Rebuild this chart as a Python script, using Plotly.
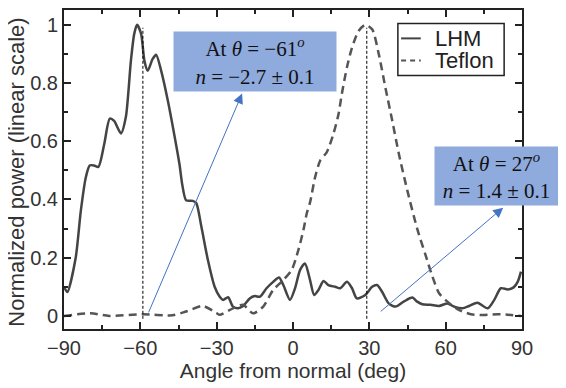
import plotly.graph_objects as go

# ---------------- data ----------------
lhm_angle = [-90, -88.7, -85.4, -83.4, -81.4, -79.9, -78.2, -76.5, -74.2, -72.0, -70.3, -67.6,
             -65.7, -63.7, -62.4, -61.3, -59.7, -58.4, -57.1, -55.2, -53.8, -51.8, -49.2, -46.6,
             -44.6, -43.5, -42.0, -39.4, -38.0, -36.0, -33.4, -30.8, -28.8, -27.5, -25.5, -23.6,
             -21.6, -19.6, -17.0, -15.0, -13.0, -10.4, -7.8, -5.5, -3.8, -1.2, 0.8, 2.8, 4.7,
             6.7, 8.3, 10.0, 12.0, 13.9, 16.6, 18.6, 21.2, 23.2, 25.1, 28.4, 31.1, 33.0, 35.0,
             37.6, 40.3, 43.5, 46.9, 48.8, 50.8, 54.1, 57.4, 60.7, 63.3, 66.6, 69.2, 72.5, 76.5,
             79.1, 81.7, 84.4, 86.7, 88.3, 89.6]
lhm_power = [0.10, 0.082, 0.20, 0.36, 0.477, 0.517, 0.517, 0.512, 0.59, 0.678, 0.67, 0.627,
             0.683, 0.877, 0.969, 1.0, 0.969, 0.877, 0.842, 0.882, 0.897, 0.842, 0.74, 0.62,
             0.52, 0.45, 0.397, 0.395, 0.387, 0.306, 0.19, 0.10, 0.066, 0.055, 0.064, 0.032,
             0.026, 0.034, 0.06, 0.068, 0.066, 0.095, 0.117, 0.132, 0.106, 0.055, 0.095, 0.158, 0.18,
             0.123, 0.072, 0.089, 0.12, 0.106, 0.10, 0.095, 0.117, 0.095, 0.06, 0.072, 0.10, 0.106, 0.083,
             0.043, 0.032, 0.049, 0.063, 0.049, 0.04, 0.038, 0.034, 0.043, 0.032, 0.026, 0.034, 0.045, 0.026,
             0.055, 0.095, 0.091, 0.098, 0.117, 0.152]

teflon_angle = [-90, -79.5, -72.2, -59.1, -47.3, -42.0, -35.4, -30.1, -28.8, -23.6, -19.6, -15.7,
                -11.7, -7.8, -3.8, -0.5, 2.1, 4.1, 5.4, 6.7, 8.7, 10.7, 13.3, 15.9, 17.9, 19.2,
                21.2, 23.2, 25.8, 28.4, 31.1, 33.7, 36.3, 39.0, 41.6, 44.9, 48.8, 52.1, 54.8,
                57.4, 60.7, 64.6, 69.9, 75.1, 80.4, 85.7, 89.6]
teflon_power = [0.0, 0.009, 0.0, 0.006, 0.002, 0.015, 0.034, 0.01, 0.004, 0.026, 0.038, 0.009,
                0.032, 0.089, 0.123, 0.158, 0.226, 0.295, 0.352, 0.39, 0.477, 0.534, 0.563, 0.626, 0.694, 0.763,
                0.854, 0.922, 0.979, 1.0, 0.985, 0.90, 0.785, 0.671, 0.557, 0.432, 0.30, 0.209, 0.135,
                0.078, 0.049, 0.023, 0.006, 0.003, 0.006, 0.003, 0.0]

x_ticks = [-90, -60, -30, 0, 30, 60, 90]
x_ticklabels = ["\u221290", "\u221260", "\u221230", "0", "30", "60", "90"]
y_ticks = [0, 0.2, 0.4, 0.6, 0.8, 1]
y_ticklabels = ["0", "0.2", "0.4", "0.6", "0.8", "1"]

series_names = ["LHM", "Teflon"]
peak_angles = [-59, 29]
box_texts = ["At <i>\u03b8</i> = \u221261<sup><i>o</i></sup><br><i>n</i> = \u22122.7 \u00b1 0.1",
             "At <i>\u03b8</i> = 27<sup><i>o</i></sup><br><i>n</i> = 1.4 \u00b1 0.1"]
x_title = "Angle from normal (deg)"
y_title = "Normalized power (linear scale)"

# ---------------- figure ----------------
AX = "#222222"
line_styles = [dict(color="#444444", width=2.5, shape="spline", smoothing=0.7),
               dict(color="#555555", width=2.5, dash="8px,5px", shape="spline", smoothing=0.7)]
legend_dashes = ["solid", "5px,4px"]

fig = go.Figure()
fig.add_trace(go.Scatter(x=lhm_angle, y=lhm_power, name=series_names[0], mode="lines",
                         line=line_styles[0], showlegend=False))
fig.add_trace(go.Scatter(x=teflon_angle, y=teflon_power, name=series_names[1], mode="lines",
                         line=line_styles[1], showlegend=False))

for a in peak_angles:
    fig.add_shape(type="line", xref="x", yref="y", x0=a, x1=a, y0=-0.01, y1=0.99,
                  line=dict(color="black", width=1, dash="3px,2px"))

# arrows
arrow_color = "#4472C4"
fig.add_annotation(x=-20.0, y=0.764, ax=-57.0, ay=0.007, xref="x", yref="y", axref="x", ayref="y",
                   showarrow=True, arrowhead=2, arrowsize=2, arrowwidth=1, arrowcolor=arrow_color, text="")
fig.add_annotation(x=82.6, y=0.372, ax=33.9, ay=0.011, xref="x", yref="y", axref="x", ayref="y",
                   showarrow=True, arrowhead=2, arrowsize=2, arrowwidth=1, arrowcolor=arrow_color, text="")

box_font = dict(family="Liberation Serif, DejaVu Serif, serif", size=21, color="#111111")
fig.add_annotation(x=0.417, y=0.839, xref="paper", yref="paper", text=box_texts[0], showarrow=False,
                   bgcolor="#8FAADC", width=162, height=59, borderpad=0, font=box_font,
                   xanchor="center", yanchor="middle", align="center")
fig.add_annotation(x=0.944, y=0.479, xref="paper", yref="paper", text=box_texts[1], showarrow=False,
                   bgcolor="#8FAADC", width=123, height=58, borderpad=0, font=box_font,
                   xanchor="center", yanchor="middle", align="center")

# legend box (drawn in paper coordinates)
fig.add_shape(type="rect", xref="paper", yref="paper", x0=0.729, x1=0.961, y0=0.795, y1=0.958,
              line=dict(color="#222222", width=1.5), fillcolor="white", layer="above")
legend_rows_y = [0.911, 0.842]
for name, st, dsh, yy in zip(series_names, line_styles, legend_dashes, legend_rows_y):
    fig.add_shape(type="line", xref="paper", yref="paper", x0=0.736, x1=0.779, y0=yy, y1=yy,
                  line=dict(color=st["color"], width=2, dash=dsh), layer="above")
    fig.add_annotation(x=0.806, y=yy, xref="paper", yref="paper", text=name, showarrow=False,
                       xanchor="left", yanchor="middle", font=dict(size=22, color="#222222"))

# y-axis title as rotated text
fig.add_annotation(x=-0.1026, y=0.49, xref="paper", yref="paper", text=y_title, showarrow=False,
                   textangle=-90, xanchor="center", yanchor="middle",
                   font=dict(size=22, color="#333333"))

# page body has an 8px margin, so the figure is 8px smaller and margins shifted
font_main = "Liberation Sans, Arial, sans-serif"
fig.update_layout(
    width=558, height=380,
    margin=dict(l=56, r=44, t=2, b=59, autoexpand=False),
    paper_bgcolor="white", plot_bgcolor="white",
    font=dict(family=font_main, size=20, color="#333333"),
    showlegend=False,
)
fig.update_xaxes(range=[-90, 90], tickvals=x_ticks, ticktext=x_ticklabels,
                 showline=True, linecolor=AX, linewidth=2, mirror="allticks",
                 ticks="inside", ticklen=7, tickwidth=1.5, tickcolor=AX,
                 minor=dict(dtick=15, tick0=0, ticks="inside", ticklen=4, tickwidth=1.5, tickcolor=AX),
                 showgrid=False, zeroline=False, automargin=False,
                 title=dict(text=x_title, font=dict(size=21), standoff=2),
                 tickfont=dict(size=20))
fig.update_yaxes(range=[-0.045, 1.051], tickvals=y_ticks, ticktext=y_ticklabels,
                 showline=True, linecolor=AX, linewidth=2, mirror="allticks",
                 ticks="inside", ticklen=7, tickwidth=1.5, tickcolor=AX,
                 minor=dict(dtick=0.1, tick0=0, ticks="inside", ticklen=4, tickwidth=1.5, tickcolor=AX),
                 showgrid=False, zeroline=False, automargin=False,
                 tickfont=dict(size=20))

fig.write_html("out.html")
